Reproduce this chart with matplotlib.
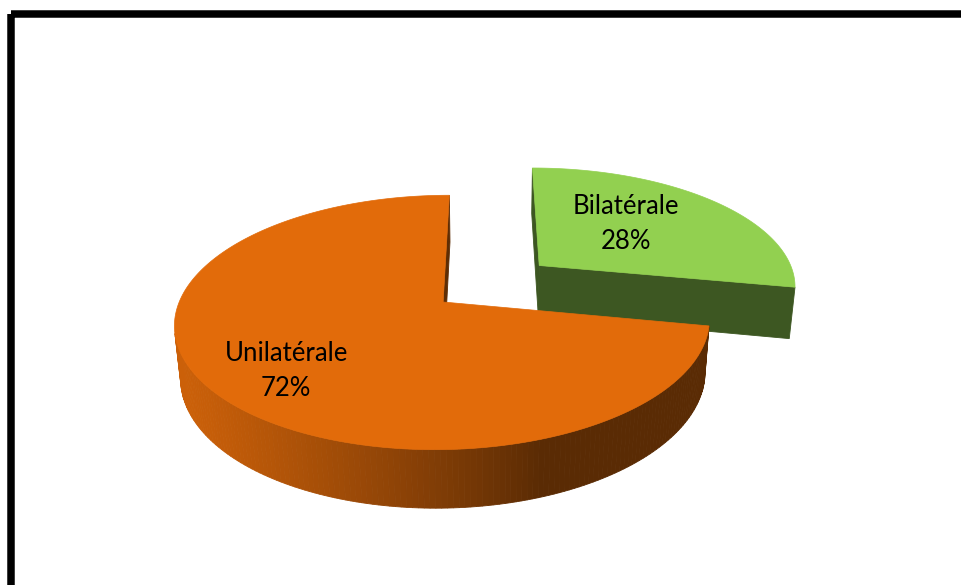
import numpy as np
import matplotlib.pyplot as plt
from matplotlib.patches import Polygon, Rectangle
from matplotlib.colors import to_rgb

# data
categories = ['Bilatérale', 'Unilatérale']
values = [28, 72]
slice_colors = ['#92D050', '#E26B0A']
explode = [0.485, 0.0]
label_r = [0.48, 0.70]
label_nudge = [-9, 9]   # pixels, vertical

# 3d pie view (perspective camera looking down at the disc)
elev = np.radians(28)
dist = 5.49
focal = 1449.0
cam_x = 0.17
thick = 0.228
cx, cy = 488, 302
light = np.radians(200)

se, ce = np.sin(elev), np.cos(elev)
cam = np.array([cam_x, -dist * ce, dist * se])


def project(x, y, z):
    xc = x - cam_x
    yc = y * se + z * ce
    zc = dist + y * ce - z * se
    return cx + focal * xc / zc, cy - focal * yc / zc


def shade(c, k):
    return tuple(np.clip(np.array(to_rgb(c)) * k, 0, 1))


fig = plt.figure(figsize=(9.62, 5.85), dpi=100)
ax = fig.add_axes([0, 0, 1, 1])
ax.set_xlim(0, 962)
ax.set_ylim(585, 0)
ax.axis('off')

fracs = np.array(values, dtype=float) / sum(values)
starts = 90 - 360 * np.concatenate([[0], np.cumsum(fracs)[:-1]])
ends = starts - 360 * fracs
mids = np.radians((starts + ends) / 2)

# back slices first
order = sorted(range(len(values)), key=lambda i: -(explode[i] + 0.5) * np.sin(mids[i]))

for i in order:
    t1, t2 = np.radians(starts[i]), np.radians(ends[i])
    ox, oy = explode[i] * np.cos(mids[i]), explode[i] * np.sin(mids[i])
    base = slice_colors[i]
    faces = []

    # flat cut faces
    for a, sgn in ((t1, 1), (t2, -1)):
        nrm = np.array([np.cos(a + sgn * np.pi / 2), np.sin(a + sgn * np.pi / 2), 0])
        p = np.array([ox + 0.5 * np.cos(a), oy + 0.5 * np.sin(a), -thick / 2])
        if np.dot(nrm, cam - p) > 0:
            pts3 = [(ox, oy, 0), (ox + np.cos(a), oy + np.sin(a), 0),
                    (ox + np.cos(a), oy + np.sin(a), -thick), (ox, oy, -thick)]
            d = np.linalg.norm(cam - p)
            faces.append((d, pts3, shade(base, 0.42)))

    # curved outer wall
    angs = np.linspace(t2, t1, 240)
    for a0, a1 in zip(angs[:-1], angs[1:]):
        am = (a0 + a1) / 2
        nrm = np.array([np.cos(am), np.sin(am), 0])
        p = np.array([ox + np.cos(am), oy + np.sin(am), -thick / 2])
        if np.dot(nrm, cam - p) > 0:
            k = 0.4 + 0.5 * max(0.0, np.cos(am - light))
            pts3 = [(ox + np.cos(a0), oy + np.sin(a0), 0), (ox + np.cos(a1), oy + np.sin(a1), 0),
                    (ox + np.cos(a1), oy + np.sin(a1), -thick), (ox + np.cos(a0), oy + np.sin(a0), -thick)]
            d = np.linalg.norm(cam - p)
            faces.append((d, pts3, shade(base, k)))

    faces.sort(key=lambda f: -f[0])
    for d, pts3, col in faces:
        pts = [project(*q) for q in pts3]
        ax.add_patch(Polygon(pts, closed=True, fc=col, ec=col, lw=0.6))

    # top surface
    top = [project(ox, oy, 0)] + [project(ox + np.cos(a), oy + np.sin(a), 0) for a in angs]
    ax.add_patch(Polygon(top, closed=True, fc=base, ec=base, lw=0.5))

# labels
for i, cat in enumerate(categories):
    r = explode[i] + label_r[i]
    lx, ly = project(r * np.cos(mids[i]), r * np.sin(mids[i]), 0)
    ax.text(lx, ly + label_nudge[i], f'{cat}\n{values[i]}%', ha='center', va='center',
            fontsize=18.5, family='Lato', color='black', linespacing=1.5)

# chart frame (runs off the right and bottom edges)
ax.add_patch(Rectangle((11, 13.5), 1200, 900, fill=False, ec='black', lw=5.4,
                       joinstyle='round'))

fig.savefig('out.png', dpi=100)
